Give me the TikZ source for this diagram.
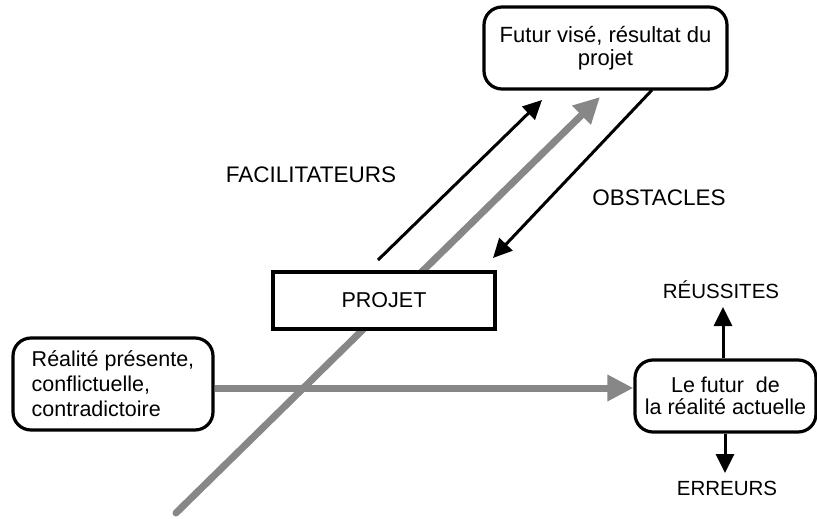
\documentclass[tikz,border=0pt]{standalone}
\usepackage{fontspec}
\setmainfont{Liberation Sans}
\usetikzlibrary{arrows.meta,backgrounds}
\definecolor{arrgray}{RGB}{135,135,135}
\begin{document}
\begin{tikzpicture}[x=1pt,y=-1pt,
  box/.style={draw,line width=3.2pt,fill=white,rounded corners=18pt,inner sep=0pt,align=center},
  sqbox/.style={draw,line width=3.2pt,fill=white,inner sep=0pt,align=center},
  lbl/.style={inner sep=0pt,font=\fontsize{20.5}{24}\selectfont},
  biglbl/.style={lbl,font=\fontsize{22.5}{24}\selectfont},
  blk/.style={line width=3pt,-{Triangle[length=19pt,width=18pt]}},
  gry/.style={draw=arrgray,color=arrgray,line width=7pt,line cap=round,-{Triangle[length=26pt,width=25pt]}}]
\useasboundingbox (0,0) rectangle (817,519);

% boxes
\node[box,minimum width=243pt,minimum height=82pt,font=\fontsize{22}{23.5}\selectfont] (vise) at (605.5,48) {Futur visé, résultat du\\projet};
\node[sqbox,minimum width=222pt,minimum height=57pt,font=\fontsize{21.5}{24}\selectfont] (projet) at (384,300.5) {PROJET};
\node[box,align=left,minimum width=200pt,minimum height=92pt,font=\fontsize{21.5}{25}\selectfont] (reel) at (113,384) {Réalité présente,\\conflictuelle,\\contradictoire};
\node[box,minimum width=181pt,minimum height=72pt,font=\fontsize{21.5}{22.5}\selectfont] (futur) at (725.5,396) {Le futur\ \ de\\la réalité actuelle};

% labels
\node[biglbl] (facil) at (311,175) {FACILITATEURS};
\node[biglbl] (obst) at (659,198) {OBSTACLES};
\node[lbl] (reuss) at (721,290) {RÉUSSITES};
\node[lbl] (err) at (727,488) {ERREURS};

% coordinates for free ends
\coordinate (gtail) at (176,513);
\coordinate (ghead) at (600,97);
\coordinate (hy) at (0,388);
\coordinate (ftail) at (378,260);
\coordinate (fhead) at (542,100);
\coordinate (otail) at (652,90);
\coordinate (ohead) at (493,258);
\coordinate (rtip) at (723,307);
\coordinate (etip) at (725,473);

\begin{pgfonlayer}{background}
  \draw[gry] (gtail) -- (ghead);
  \draw[gry,line cap=butt] (reel.east |- hy) -- (futur.west |- hy);
\end{pgfonlayer}

\draw[blk] (ftail) -- (fhead);
\draw[blk] (otail) -- (ohead);
\draw[blk] (futur.north -| rtip) -- (rtip);
\draw[blk] (futur.south -| etip) -- (etip);
\end{tikzpicture}
\end{document}
